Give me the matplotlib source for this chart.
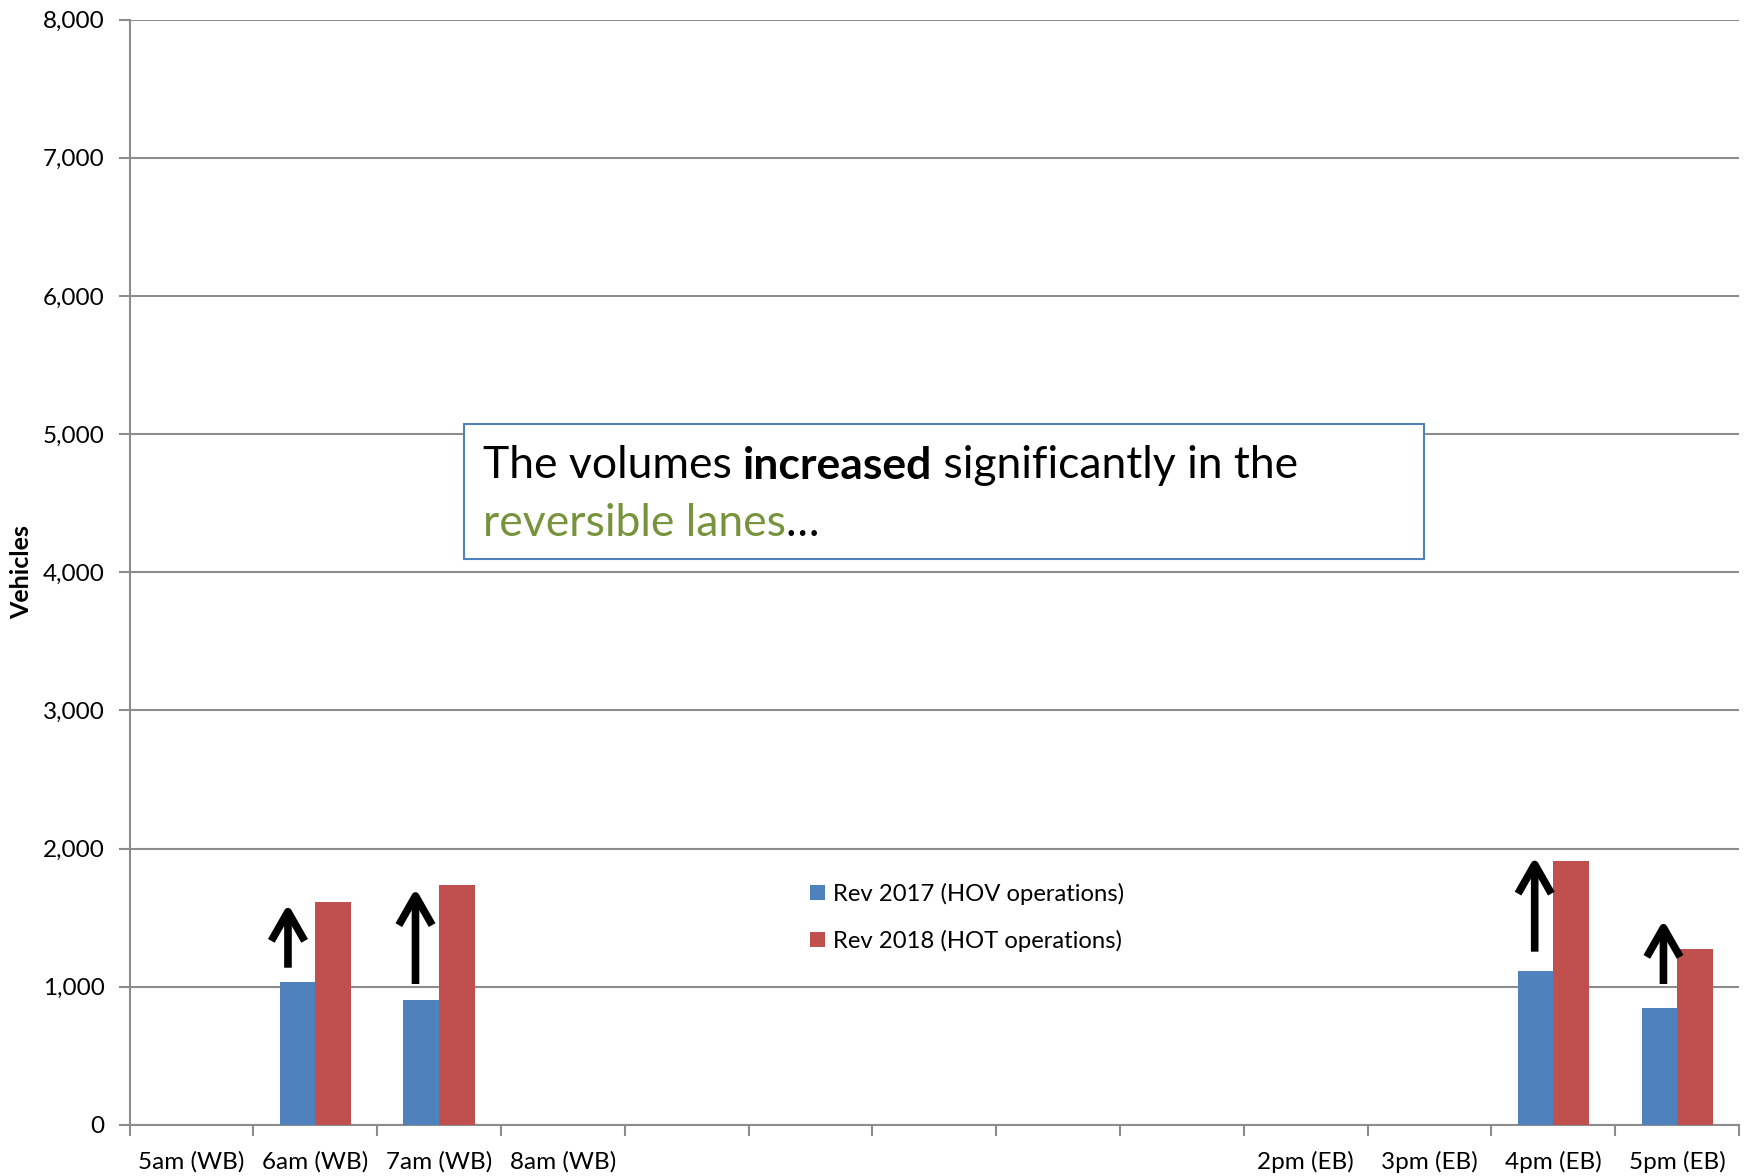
import numpy as np
import matplotlib
matplotlib.use("Agg")
import matplotlib.pyplot as plt
from matplotlib.ticker import FuncFormatter

plt.rcParams['font.family'] = ['Lato', 'DejaVu Sans']

categories = ["5am (WB)", "6am (WB)", "7am (WB)", "8am (WB)", "", "", "", "", "",
              "2pm (EB)", "3pm (EB)", "4pm (EB)", "5pm (EB)"]
rev_2017 = [0, 1032, 904, 0, 0, 0, 0, 0, 0, 0, 0, 1114, 849]
rev_2018 = [0, 1611, 1736, 0, 0, 0, 0, 0, 0, 0, 0, 1910, 1273]

# arrows drawn next to the bars: category index, tail value, tip value
arrow_cat = [1, 2, 11, 12]
arrow_tail = [1138, 1020, 1254, 1020]
arrow_tip = [1599, 1713, 1941, 1483]
arrow_shift = [-0.22, -0.19, -0.15, -0.11]

blue = "#4F81BD"
red = "#C0504D"
grid_gray = "#8C8C8C"

fig = plt.figure(figsize=(17.5, 11.76), dpi=100)
ax = fig.add_axes([0.074, 0.0434, 0.9197, 0.94])

x = np.arange(len(categories))
w = 0.287
ax.bar(x - w / 2, rev_2017, w, color=blue, label="Rev 2017 (HOV operations)", zorder=3)
ax.bar(x + w / 2, rev_2018, w, color=red, label="Rev 2018 (HOT operations)", zorder=3)

for c, t0, t1, s in zip(arrow_cat, arrow_tail, arrow_tip, arrow_shift):
    ax.annotate("", xy=(c + s, t1), xytext=(c + s, t0),
                arrowprops=dict(arrowstyle="->,head_length=2.1,head_width=1.2",
                                lw=5.5, color="black", shrinkA=0, shrinkB=0,
                                capstyle="butt", joinstyle="round"),
                zorder=5)

ax.set_xlim(-0.5, len(categories) - 0.5)
ax.set_ylim(0, 8000)
ax.set_yticks(np.arange(0, 8001, 1000))
ax.yaxis.set_major_formatter(FuncFormatter(lambda v, p: f"{int(v):,}"))
ax.set_xticks(x)
ax.set_xticklabels(categories)
ax.set_xticks(np.arange(-0.5, len(categories), 1), minor=True)
ax.tick_params(axis="x", which="major", length=0, pad=19, labelsize=17.5)
ax.tick_params(axis="x", which="minor", length=8, width=1.5, color=grid_gray)
ax.tick_params(axis="y", length=8, width=1.5, color=grid_gray, pad=10, labelsize=17.5)

ax.grid(axis="y", color=grid_gray, lw=1.5, zorder=0)
for side in ["top", "right"]:
    ax.spines[side].set_visible(False)
for side in ["left", "bottom"]:
    ax.spines[side].set_color(grid_gray)
    ax.spines[side].set_linewidth(1.5)

ax.set_ylabel("Vehicles", fontsize=18, fontweight="bold", labelpad=7)

ax.legend(loc="upper left", bbox_to_anchor=(0.423, 0.219), frameon=False,
          fontsize=17.2, handlelength=0.6, handleheight=0.6, handletextpad=0.35,
          labelspacing=1.05, borderpad=0, borderaxespad=0)

# text box
box = plt.Rectangle((0.208, 0.512), 0.596, 0.122, transform=ax.transAxes,
                    facecolor="white", edgecolor=blue, lw=1.5, zorder=6)
ax.add_patch(box)
fs = 32
t1 = ax.text(0.2195, 0.585, "The volumes ", transform=ax.transAxes, fontsize=fs, zorder=7, va="baseline")
t2 = ax.annotate("increased", xy=(1, 0), xycoords=t1, va="bottom", fontsize=fs, fontweight="bold", zorder=7)
t3 = ax.annotate(" significantly in the", xy=(1, 0), xycoords=t2, va="bottom", fontsize=fs, zorder=7)
t4 = ax.text(0.2195, 0.5325, "reversible lanes", transform=ax.transAxes, fontsize=fs,
             color="#77933C", zorder=7, va="baseline")
t5 = ax.annotate("\u2026", xy=(1, 0), xycoords=t4, va="bottom", fontsize=fs, zorder=7)

fig.savefig("out.png", dpi=100)
